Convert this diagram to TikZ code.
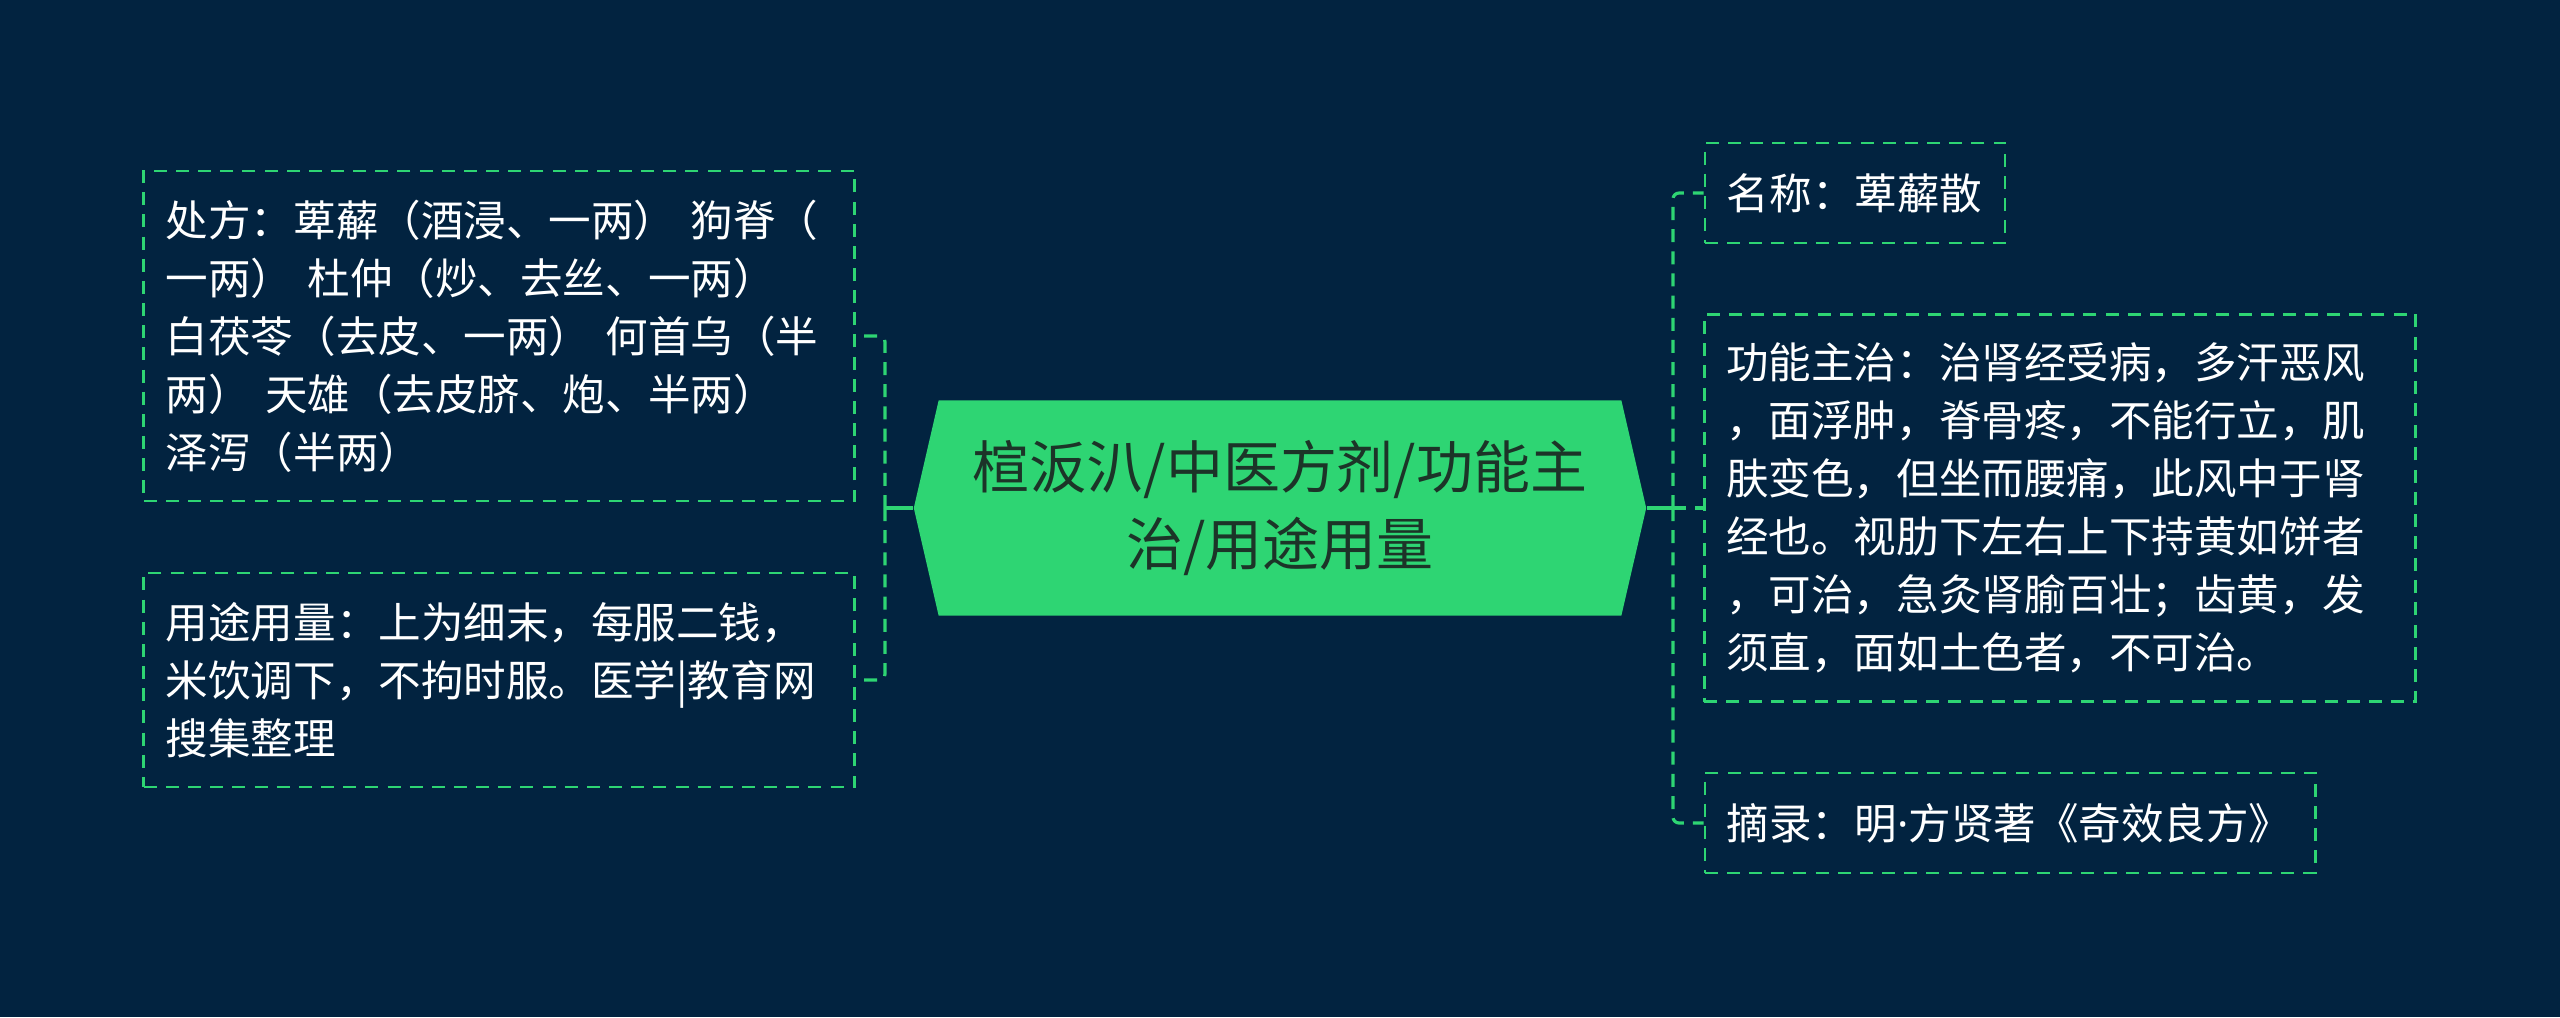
\documentclass[tikz,border=0pt]{standalone}
\usepackage{fontspec}
\setmainfont{Noto Sans CJK SC}
\newfontfamily\latinfont{Noto Sans}
\usetikzlibrary{calc}
\usetikzlibrary{shapes.symbols}
\definecolor{bgnavy}{RGB}{2,35,64}
\definecolor{leafgreen}{RGB}{46,213,115}
\definecolor{topictext}{RGB}{28,52,40}

\begin{document}
\begin{tikzpicture}[x=0.01cm,y=-0.01cm,
  leaf/.style={draw=leafgreen,line width=0.75pt,dash pattern=on 3.7pt off 2.6pt,
    text=white,align=left,inner xsep=0.22cm,inner ysep=0pt,
    font=\fontsize{12.1pt}{16.5pt}\selectfont},
  trunk/.style={leafgreen,line width=1.2pt},
  branch/.style={leafgreen,line width=0.9pt,dash pattern=on 3.7pt off 2.6pt,
    rounded corners=0.06cm}]
\fill[bgnavy] (0,0) rectangle (2560,1017);
\useasboundingbox (0,0) rectangle (2560,1017);

\node[signal,signal to=east and west,signal pointer angle=154,fill=leafgreen,
      minimum width=7.32cm,minimum height=2.15cm,inner sep=0pt,align=center,
      text=topictext,font=\fontsize{16.2pt}{21.9pt}\selectfont]
      (topic) at (1280,508) {楦汳汃/中医方剂/功能主\\治/用途用量};

\node[leaf,text width=6.66cm,minimum height=3.30cm] (recipe) at (499,336)
      {处方：萆薢（酒浸、一两） 狗脊（\\一两） 杜仲（炒、去丝、一两）\\白茯苓（去皮、一两） 何首乌（半\\两） 天雄（去皮脐、炮、半两）\\泽泻（半两）};
\node[leaf,text width=6.66cm,minimum height=2.14cm] (usage) at (499,680)
      {用途用量：上为细末，每服二钱，\\米饮调下，不拘时服。医学|教育网\\搜集整理};

\node[leaf,text width=2.56cm,minimum height=1.00cm] (name) at (1855,193)
      {名称：萆薢散};
\node[leaf,text width=6.67cm,minimum height=3.87cm] (func) at (2060,508)
      {功能主治：治肾经受病，多汗恶风\\，面浮肿，脊骨疼，不能行立，肌\\肤变色，但坐而腰痛，此风中于肾\\经也。视肋下左右上下持黄如饼者\\，可治，急灸肾腧百壮；齿黄，发\\须直，面如土色者，不可治。};
\node[leaf,text width=5.66cm,minimum height=1.00cm] (source) at (2010,823)
      {摘录：明{\latinfont ·}方贤著《奇效良方》};

\coordinate (ljct) at (885,508);
\coordinate (rjct) at (1673,508);
\draw[trunk] (topic.west) -- (ljct);
\draw[trunk] (topic.east) -- (rjct);
\draw[branch] (ljct) |- (recipe.east);
\draw[branch] (ljct) |- (usage.east);
\draw[branch] (rjct) |- (name.west);
\draw[branch] (rjct) -- (func.west);
\draw[branch] (rjct) |- (source.west);
\end{tikzpicture}
\end{document}
